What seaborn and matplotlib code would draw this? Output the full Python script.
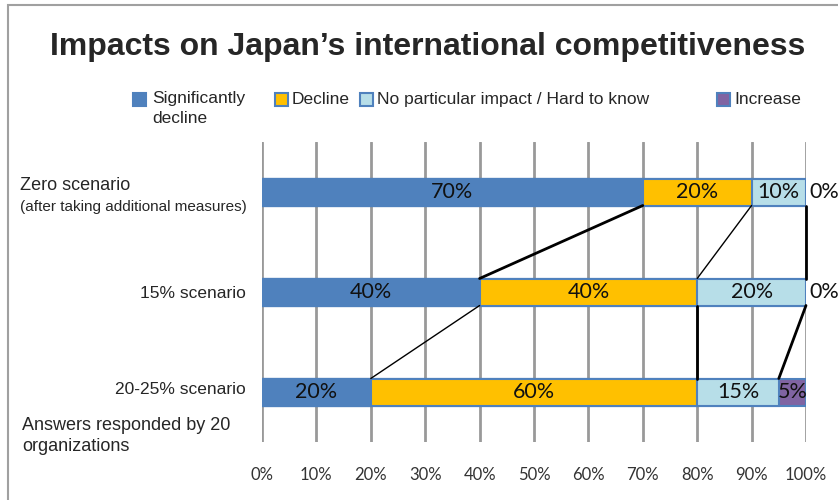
import matplotlib
matplotlib.use("Agg")
import matplotlib.pyplot as plt
import seaborn as sns
import pandas as pd
import numpy as np
from matplotlib.patches import Rectangle

# ---- data ----
scenarios = ["Zero scenario", "15% scenario", "20-25% scenario"]
series = ["Significantly\ndecline", "Decline", "No particular impact / Hard to know", "Increase"]
sig_decline = [70, 40, 20]
decline = [20, 40, 60]
no_impact = [10, 20, 15]
increase = [0, 0, 5]
xticks = [0, 10, 20, 30, 40, 50, 60, 70, 80, 90, 100]

colors = ["#4F81BD", "#FFC000", "#B7DEE8", "#8064A2"]
edge = "#4F81BD"

sns.set_theme(style="white")
narrow = ["Liberation Sans Narrow", "Liberation Sans", "DejaVu Sans"]
calib = ["Lato", "DejaVu Sans"]

fig = plt.figure(figsize=(8.38, 5.0), dpi=100)
W, H = 838, 500
def fx(x): return x / W
def fy(y): return 1 - y / H

ax = fig.add_axes([fx(262), fy(442), fx(806) - fx(262), fy(142) - fy(442)])

vals = np.array([sig_decline, decline, no_impact, increase], dtype=float)
cum = np.cumsum(vals, axis=0)
bar_h = 0.27

# overlay cumulative bars, largest first
for i in range(3, -1, -1):
    df = pd.DataFrame({"scenario": scenarios, "value": cum[i]})
    sns.barplot(data=df, x="value", y="scenario", orient="h", ax=ax,
                color=colors[i], width=bar_h, edgecolor=edge, linewidth=1.5,
                saturation=1, zorder=3)

ax.set_xlim(0, 100)
ax.set_ylim(2.5, -0.5)
ax.set_xticks(xticks)
ax.set_xticklabels([f"{t}%" for t in xticks], fontsize=12, color="#333333", family=calib)
ax.set_yticks([0, 1, 2])
ax.set_yticklabels(["", "", ""])
ax.set_xlabel("")
ax.set_ylabel("")
ax.tick_params(axis="x", length=0, pad=18)
ax.tick_params(axis="y", length=0)
for s in ax.spines.values():
    s.set_visible(False)
ax.xaxis.grid(True, color="#999999", linewidth=2)
ax.yaxis.grid(False)
ax.set_axisbelow(True)

# value labels
for r in range(3):
    for i in range(4):
        v = vals[i, r]
        start = cum[i, r] - v
        if v > 0:
            ax.text(start + v / 2, r, f"{int(v)}%", ha="center", va="center",
                    fontsize=15.5, color="#111111", family=calib, zorder=5)
        elif i == 3:
            ax.text(100.6, r, "0%", ha="left", va="center", fontsize=15.5,
                    color="#111111", family=calib, zorder=5, clip_on=False)

# series connector lines
widths = [[2, 1, 2], [1, 2, 2]]
for r in range(2):
    for i in range(3):
        ax.plot([cum[i, r], cum[i, r + 1]], [r + bar_h / 2, r + 1 - bar_h / 2],
                color="black", linewidth=widths[r][i], zorder=4, clip_on=False)

# category labels
fig.text(fx(20), fy(186), "Zero scenario", ha="left", va="center", fontsize=13, family=narrow)
fig.text(fx(20), fy(207), "(after taking additional measures)", ha="left", va="center",
         fontsize=11, family=narrow)
fig.text(fx(246), fy(293), "15% scenario", ha="right", va="center", fontsize=12.5, family=narrow)
fig.text(fx(246), fy(390), "20-25% scenario", ha="right", va="center", fontsize=12.5, family=narrow)
fig.text(fx(22), fy(436), "Answers responded by 20\norganizations", ha="left", va="center",
         fontsize=13, family=narrow, linespacing=1.3)

# title
fig.text(fx(428), fy(47), "Impacts on Japan\u2019s international competitiveness",
         ha="center", va="center", fontsize=23, fontweight="bold",
         family=["Liberation Sans", "DejaVu Sans"])

# legend (manual, Excel style)
leg_items = [(133, 152), (275, 292), (360, 377), (717, 734)]
for (sx, tx), lab, c in zip(leg_items, series, colors):
    fig.patches.append(Rectangle((fx(sx), fy(106)), 13 / W, 13 / H, transform=fig.transFigure,
                                 facecolor=c, edgecolor=edge, linewidth=1.5))
    if "\n" in lab:
        fig.text(fx(tx), fy(91), lab, ha="left", va="top",
                 fontsize=12.5, family=narrow, linespacing=1.4)
    else:
        fig.text(fx(tx), fy(99.5), lab, ha="left", va="center",
                 fontsize=12.5, family=narrow)

# outer frame
fig.patches.append(Rectangle((fx(8), -0.1), 1.2, fy(5) + 0.1, transform=fig.transFigure,
                             facecolor="none", edgecolor="#A0A0A0", linewidth=1.5))

fig.savefig("out.png", dpi=100)
